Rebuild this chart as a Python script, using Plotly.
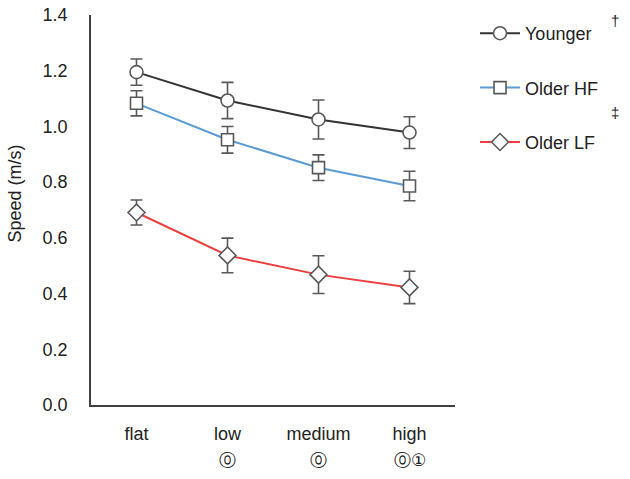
import plotly.graph_objects as go

categories = ["flat", "low", "medium", "high"]
younger = [1.195, 1.093, 1.025, 0.978]
younger_err = [0.047, 0.065, 0.070, 0.057]
older_hf = [1.083, 0.952, 0.852, 0.786]
older_hf_err = [0.045, 0.048, 0.046, 0.053]
older_lf = [0.691, 0.537, 0.468, 0.422]
older_lf_err = [0.045, 0.062, 0.068, 0.058]
sig_labels = ["", "⓪", "⓪", "⓪①"]
y_ticks = [0.0, 0.2, 0.4, 0.6, 0.8, 1.0, 1.2, 1.4]

FONT = "Liberation Sans, Arial, sans-serif"
TXT = "#222222"
MK_LINE = "#595959"

series = [
    ("Younger", younger, younger_err, "#333333", "circle", 13),
    ("Older HF", older_hf, older_hf_err, "#5b9bd5", "square", 12),
    ("Older LF", older_lf, older_lf_err, "#ef3e3e", "diamond", 13),
]

fig = go.Figure()
for i, (name, vals, errs, col, sym, sz) in enumerate(series):
    fig.add_trace(go.Scatter(
        x=categories, y=vals, name=name, mode="lines+markers",
        legendgroup=f"g{i}",
        line=dict(color=col, width=2),
        marker=dict(symbol=sym, size=sz, color="white",
                    line=dict(color=MK_LINE, width=1.6)),
        error_y=dict(type="data", array=errs, visible=True,
                     color=MK_LINE, thickness=1.6, width=6),
    ))

def ann(**kw):
    base = dict(showarrow=False, xanchor="center", yanchor="middle")
    base.update(kw)
    return base

annotations = []
for c, s in zip(categories, sig_labels):
    if s:
        annotations.append(ann(x=c, y=-0.141, xref="x", yref="paper", text=s,
                               font=dict(family="DejaVu Sans", size=17, color=TXT)))
annotations.append(ann(x=1.44, y=0.987, xref="paper", yref="paper", text="†",
                       font=dict(family=FONT, size=15, color=TXT)))
annotations.append(ann(x=1.44, y=0.751, xref="paper", yref="paper", text="‡",
                       font=dict(family=FONT, size=15, color=TXT)))
annotations.append(ann(x=-0.209, y=0.542, xref="paper", yref="paper",
                       text="Speed (m/s)", textangle=-90,
                       font=dict(family=FONT, size=18, color=TXT)))

fig.update_layout(
    width=630, height=479,
    margin=dict(l=91, r=175, t=15, b=74),
    paper_bgcolor="white", plot_bgcolor="white",
    font=dict(family=FONT, size=18, color=TXT),
    showlegend=True,
    legend=dict(x=1.055, y=1.0, xanchor="left", yanchor="top",
                tracegroupgap=28, itemwidth=40,
                font=dict(family=FONT, size=18, color=TXT),
                bgcolor="rgba(0,0,0,0)"),
    annotations=annotations,
)
fig.update_xaxes(
    type="category", range=[-0.5, 3.5], automargin=False,
    showline=True, linecolor="#404040", linewidth=1.5,
    showgrid=False, ticks="", ticklabelstandoff=12,
    tickfont=dict(family=FONT, size=18, color=TXT),
)
fig.update_yaxes(
    range=[0, 1.4], tickvals=y_ticks, automargin=False,
    ticktext=[f"{v:.1f}" for v in y_ticks],
    showline=True, linecolor="#404040", linewidth=1.5,
    showgrid=False, zeroline=False, ticks="", ticklabelstandoff=18,
    tickfont=dict(family=FONT, size=18, color=TXT),
)

fig.write_html("out.html")
